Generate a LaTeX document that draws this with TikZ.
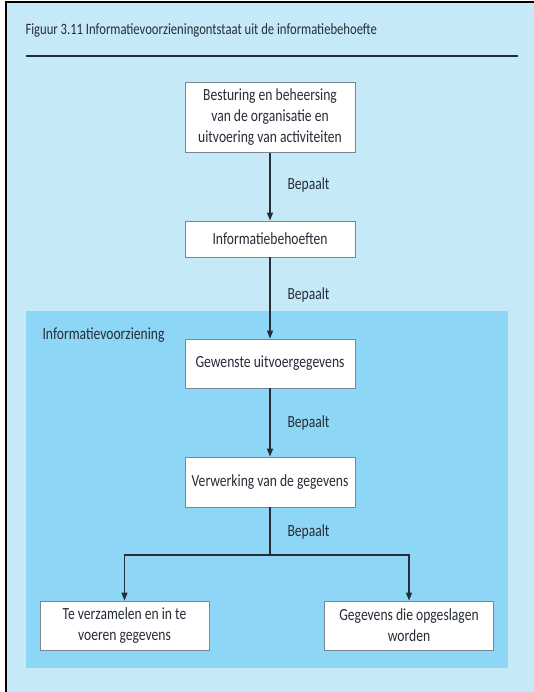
\documentclass[tikz,border=0pt]{standalone}
\usepackage{fontspec}
\setmainfont[FakeStretch=0.8]{Carlito}
\usepackage{xcolor}
\usepackage{tikz}
\usetikzlibrary{arrows.meta, positioning}
\definecolor{paleblue}{RGB}{198, 233, 248}
\definecolor{fieldblue}{RGB}{142, 214, 245}
\definecolor{inkgrey}{RGB}{38, 45, 55}
\definecolor{rimgrey}{RGB}{120, 135, 145}

\begin{document}
\begin{tikzpicture}[x=1pt, y=-1pt,
    box/.style={draw=rimgrey, fill=white, line width=0.9pt, align=center, text=inkgrey,
        minimum width=170pt, inner sep=2pt, font=\fontsize{17}{21}\selectfont},
    flow/.style={draw=inkgrey, line width=1.4pt, -{Triangle[length=8pt, width=6pt]}},
    note/.style={text=inkgrey, anchor=west, font=\fontsize{17}{19}\selectfont}]
\useasboundingbox (0,0) rectangle (534,692);

% Frame and title
\fill[paleblue] (6,2) rectangle (534,692);
\draw[black, line width=1.2pt] (6,692) -- (6,2) -- (534,2);
\node[anchor=west, text=inkgrey, font=\fontsize{15.8}{18}\selectfont] (title) at (22,30)
    {Figuur 3.11 Informatievoorzieningontstaat uit de informatiebehoefte};
\draw[inkgrey, line width=1.4pt] (26,56) -- (518,56);

% Information provision area
\fill[fieldblue] (26,311) rectangle (508,668);
\node[note] (area) at (39,335) {Informatievoorziening};

% Boxes
\node[box, minimum height=70pt] (sturing) at (270,117.5)
    {Besturing en beheersing\\van de organisatie en\\uitvoering van activiteiten};
\node[box, minimum height=36pt] (behoefte) at (270,239) {Informatiebehoeften};
\node[box, minimum height=49pt] (uitvoer) at (270,363.5) {Gewenste uitvoergegevens};
\node[box, minimum height=50pt] (verwerking) at (270,482) {Verwerking van de gegevens};
\node[box, minimum height=49pt, minimum width=169pt] (invoer) at (124.5,625.5)
    {Te verzamelen en in te\\voeren gegevens};
\node[box, minimum height=49pt, minimum width=169pt] (opslag) at (409,625.5)
    {Gegevens die opgeslagen\\worden};
\coordinate (split) at (270,555);

% Connectors
\draw[flow] (sturing) -- (behoefte);
\draw[flow] (behoefte) -- (uitvoer);
\draw[flow] (uitvoer) -- (verwerking);
\draw[draw=inkgrey, line width=1.4pt] (verwerking) -- (split);
\draw[flow] (split) -| (invoer);
\draw[flow] (split) -| (opslag);

% Labels
\node[note] (lab1) at (284,185) {Bepaalt};
\node[note] (lab2) at (284,295) {Bepaalt};
\node[note] (lab3) at (284,423) {Bepaalt};
\node[note] (lab4) at (284,532) {Bepaalt};
\end{tikzpicture}
\end{document}
